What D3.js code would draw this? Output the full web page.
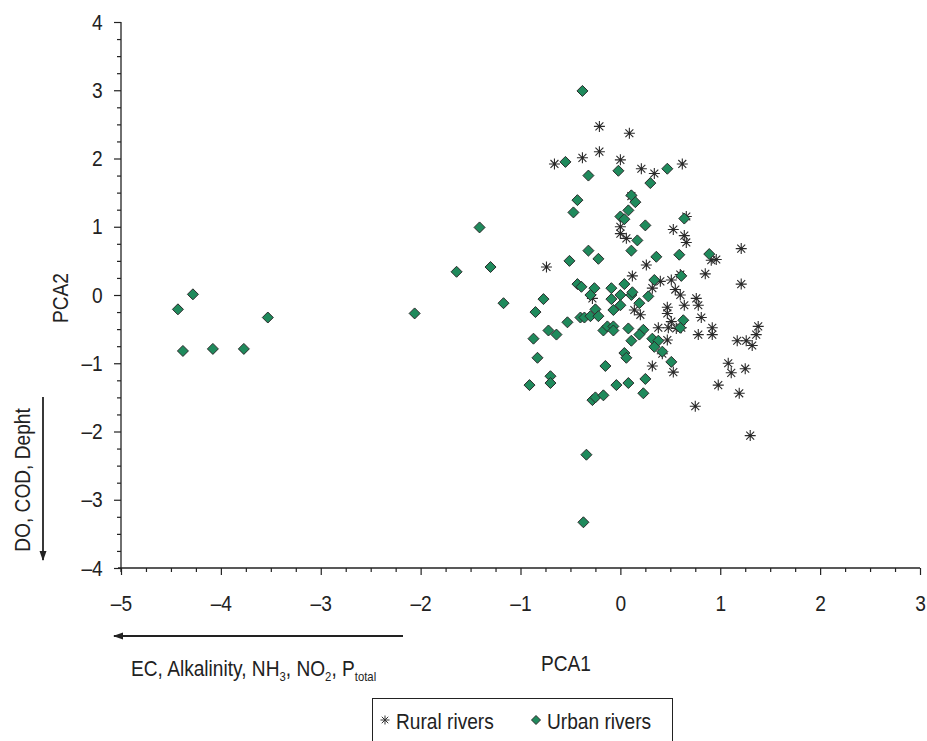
<html>
<head>
<script src="https://d3js.org/d3.v7.min.js"></script>
<style>
  body { margin: 0; background: #fff; }
  text { font-family: "Liberation Sans Narrow", "Arial Narrow", "Liberation Sans", Arial, sans-serif; fill: #222; }
</style>
</head>
<body>
<svg width="927" height="741"></svg>
<script>
// PCA scores: [PCA1, PCA2]
const rural = [
  [-0.21,2.47],[0.09,2.37],[-0.21,2.10],[-0.38,2.01],[-0.66,1.92],[0.00,1.98],[0.21,1.85],[0.34,1.78],
  [0.62,1.92],[0.11,1.45],[0.66,1.15],[0.00,1.00],[0.00,0.90],[0.06,0.83],[0.53,0.96],[0.64,0.87],
  [0.66,0.77],[1.21,0.68],[0.26,0.44],[-0.74,0.41],[0.96,0.52],[0.91,0.51],[0.85,0.31],[1.21,0.16],
  [0.40,0.20],[0.51,0.22],[0.60,0.30],[0.12,0.28],[0.32,0.10],[0.55,0.08],[0.60,0.00],[0.76,-0.05],
  [0.64,-0.15],[0.78,-0.15],[0.47,-0.18],[0.47,-0.27],[0.20,-0.29],[0.14,-0.22],[0.81,-0.33],[0.51,-0.39],
  [0.92,-0.48],[0.38,-0.48],[0.48,-0.48],[0.56,-0.49],[0.61,-0.48],[0.78,-0.58],[0.92,-0.58],[0.47,-0.66],
  [1.17,-0.67],[1.26,-0.67],[1.32,-0.74],[1.36,-0.58],[1.38,-0.46],[0.32,-1.04],[0.53,-1.13],[1.08,-1.00],
  [1.11,-1.14],[1.25,-1.08],[0.98,-1.32],[1.19,-1.44],[0.75,-1.63],[1.30,-2.06],[-0.28,-0.05],[0.42,-0.86]
];
const urban = [
  [-4.43,-0.21],[-4.28,0.01],[-4.38,-0.82],[-4.08,-0.79],[-3.77,-0.79],[-3.53,-0.33],[-2.06,-0.27],
  [-1.41,0.99],[-1.64,0.34],[-1.30,0.41],
  [-0.38,2.99],[-0.55,1.95],[-0.32,1.75],[-0.02,1.82],[0.47,1.85],[0.30,1.64],[-0.43,1.39],[-0.47,1.21],
  [0.11,1.46],[0.15,1.36],[0.08,1.24],[0.00,1.15],[0.04,1.11],[0.25,1.02],[0.64,1.12],[0.17,0.80],
  [-0.32,0.65],[0.11,0.65],[-0.22,0.53],[-0.51,0.50],[0.36,0.56],[0.59,0.59],[0.89,0.60],
  [0.34,0.22],[0.61,0.28],[0.28,-0.02],[0.19,-0.12],[0.63,-0.37],[0.60,-0.48],[0.23,-0.51],[0.19,-0.58],
  [0.32,-0.64],[0.38,-0.67],[0.34,-0.76],[0.42,-0.83],[0.51,-0.98],[0.25,-1.23],[0.23,-1.44],
  [-1.17,-0.12],[-0.77,-0.06],[-0.85,-0.25],[-0.87,-0.64],[-0.83,-0.92],[-0.72,-0.52],[-0.64,-0.58],
  [-0.53,-0.40],[-0.43,0.16],[-0.39,0.12],[-0.26,0.10],[-0.30,0.00],[-0.25,-0.21],[-0.40,-0.33],
  [-0.36,-0.33],[-0.30,-0.31],[-0.22,-0.31],[-0.09,0.10],[-0.09,-0.06],[0.00,0.00],[0.11,0.00],
  [0.12,0.04],[0.00,-0.15],[-0.07,-0.22],[0.04,0.16],[-0.17,-0.52],[-0.13,-0.46],[-0.07,-0.46],
  [-0.07,-0.52],[0.08,-0.49],[0.11,-0.67],[0.04,-0.85],[0.06,-0.92],[-0.15,-1.04],[-0.04,-1.32],
  [0.08,-1.29],[-0.70,-1.19],[-0.70,-1.29],[-0.91,-1.32],[-0.28,-1.54],[-0.25,-1.50],[-0.17,-1.47],
  [-0.34,-2.34],[-0.37,-3.33]
];
const xTicks = [-5, -4, -3, -2, -1, 0, 1, 2, 3];
const yTicks = [-4, -3, -2, -1, 0, 1, 2, 3, 4];
const seriesNames = ['Rural rivers', 'Urban rivers'];

const svg = d3.select('svg');
const x = d3.scaleLinear().domain([-5, 3]).range([121, 920]);
const y = d3.scaleLinear().domain([-4, 4]).range([568, 22]);
const fmt = d => d < 0 ? '\u2013' + Math.abs(d) : String(d);
const squeeze = 'scale(0.87,1)'; // no narrow font installed, so condense by hand

// minor ticks every 0.25
const minorX = d3.range(-5, 3.001, 0.25).filter(v => !xTicks.includes(v));
const minorY = d3.range(-4, 4.001, 0.25).filter(v => !yTicks.includes(v));

const gx = svg.append('g').attr('transform', `translate(0,${y(-4)})`);
gx.call(d3.axisBottom(x).tickValues(xTicks).tickSize(7).tickPadding(20).tickFormat(fmt));
gx.append('g').call(d3.axisBottom(x).tickValues(minorX).tickSize(4).tickFormat(''))
  .select('.domain').remove();

const gy = svg.append('g').attr('transform', `translate(${x(-5)},0)`);
gy.call(d3.axisLeft(y).tickValues(yTicks).tickSize(7).tickPadding(14).tickFormat(fmt));
gy.append('g').call(d3.axisLeft(y).tickValues(minorY).tickSize(4).tickFormat(''))
  .select('.domain').remove();

svg.selectAll('.domain').attr('stroke', '#222').attr('stroke-width', 1.3);
svg.selectAll('.tick line').attr('stroke', '#222').attr('stroke-width', 1.2);
svg.selectAll('.tick text').style('font-size', '22px')
  .style('font-family', '"Liberation Sans Narrow", "Arial Narrow", "Liberation Sans", Arial, sans-serif')
  .attr('fill', '#222')
  .attr('transform', squeeze);
// replace d3's path so axes run exactly from end to end
gx.select('.domain').attr('d', `M${x(-5) - 3},0H${x(3)}`);
gy.select('.domain').attr('d', `M0,${y(4)}V${y(-4) + 4}`);

// marker symbols
const starPath = (r) => `M0,${-r}V${r}M${-r},0H${r}M${-r*0.72},${-r*0.72}L${r*0.72},${r*0.72}M${-r*0.72},${r*0.72}L${r*0.72},${-r*0.72}`;
const diamondPath = (r) => `M0,${-r}L${r},0L0,${r}L${-r},0Z`;

svg.append('g').selectAll('path')
  .data(rural)
  .join('path')
  .attr('transform', d => `translate(${x(d[0])},${y(d[1])})`)
  .attr('d', starPath(5.5))
  .attr('fill', 'none')
  .attr('stroke', '#2a2a2a')
  .attr('stroke-width', 1.1);

svg.append('g').selectAll('path')
  .data(urban)
  .join('path')
  .attr('transform', d => `translate(${x(d[0])},${y(d[1])})`)
  .attr('d', diamondPath(5.5))
  .attr('fill', '#1f8a5c')
  .attr('stroke', '#2b2b2b')
  .attr('stroke-width', 1);

// axis titles
svg.append('text')
  .attr('transform', `translate(68,298) rotate(-90) ${squeeze}`)
  .attr('text-anchor', 'middle')
  .style('font-size', '22px')
  .text('PCA2');
svg.append('text')
  .attr('transform', `translate(566,671) ${squeeze}`)
  .attr('text-anchor', 'middle')
  .style('font-size', '22px')
  .text('PCA1');

// arrows for loadings
svg.append('defs').append('marker')
  .attr('id', 'arr').attr('viewBox', '0 0 10 10')
  .attr('refX', 9).attr('refY', 5)
  .attr('markerWidth', 10).attr('markerHeight', 10)
  .attr('markerUnits', 'userSpaceOnUse')
  .attr('orient', 'auto')
  .append('path').attr('d', 'M0,1.5L10,5L0,8.5Z').attr('fill', '#222');

svg.append('line')
  .attr('x1', 403).attr('y1', 636).attr('x2', 114).attr('y2', 636)
  .attr('stroke', '#222').attr('stroke-width', 1.8)
  .attr('marker-end', 'url(#arr)');
svg.append('line')
  .attr('x1', 43).attr('y1', 397).attr('x2', 43).attr('y2', 560)
  .attr('stroke', '#222').attr('stroke-width', 1.8)
  .attr('marker-end', 'url(#arr)');

const lab = svg.append('text')
  .attr('transform', `translate(131,676) ${squeeze}`)
  .style('font-size', '22px');
lab.append('tspan').text('EC, Alkalinity, NH');
lab.append('tspan').attr('dy', 5).style('font-size', '13px').text('3');
lab.append('tspan').attr('dy', -5).text(', NO');
lab.append('tspan').attr('dy', 5).style('font-size', '13px').text('2');
lab.append('tspan').attr('dy', -5).text(', P');
lab.append('tspan').attr('dy', 5).style('font-size', '13px').text('total');

svg.append('text')
  .attr('transform', `translate(30,480) rotate(-90) ${squeeze}`)
  .attr('text-anchor', 'middle')
  .style('font-size', '22px')
  .text('DO, COD, Depht');

// legend
const lg = svg.append('g');
lg.append('rect')
  .attr('x', 372.5).attr('y', 698.5).attr('width', 300).attr('height', 50)
  .attr('fill', '#fff').attr('stroke', '#222').attr('stroke-width', 1);
lg.append('path').attr('transform', 'translate(385,720)').attr('d', starPath(4.5))
  .attr('fill', 'none').attr('stroke', '#333').attr('stroke-width', 1);
lg.append('text').attr('transform', `translate(396,729) ${squeeze}`).style('font-size', '22px').text(seriesNames[0]);
lg.append('path').attr('transform', 'translate(536,720)').attr('d', diamondPath(4.5))
  .attr('fill', '#1f8a5c').attr('stroke', '#2b2b2b').attr('stroke-width', 1);
lg.append('text').attr('transform', `translate(547,729) ${squeeze}`).style('font-size', '22px').text(seriesNames[1]);
</script>
</body>
</html>
